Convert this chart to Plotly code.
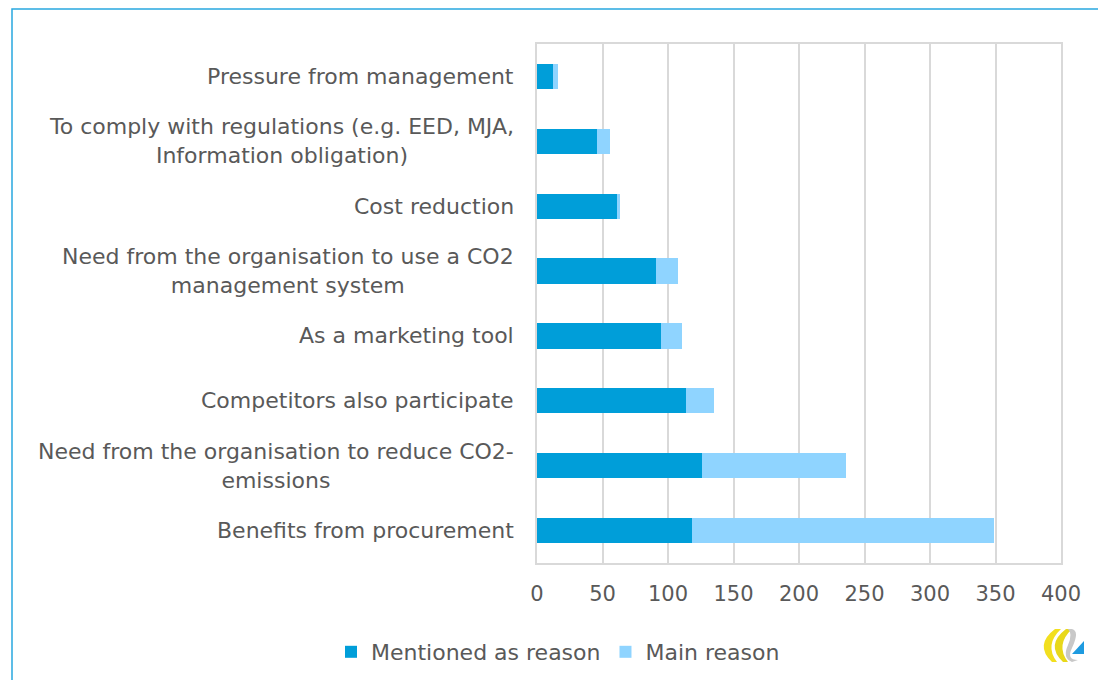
import plotly.graph_objects as go

categories = [
    "Benefits from procurement",
    "Need from the organisation to reduce CO2-<br>emissions",
    "Competitors also participate",
    "As a marketing tool",
    "Need from the organisation to use a CO2<br>management system",
    "Cost reduction",
    "To comply with regulations (e.g. EED, MJA,<br>Information obligation)",
    "Pressure from management",
]
mentioned = [118, 126, 114, 95, 91, 61, 46, 12]
main_reason = [231, 110, 21, 16, 17, 2, 10, 4]
x_ticks = [0, 50, 100, 150, 200, 250, 300, 350, 400]

# page has an 8px body margin; figure sized so the page fits the window
OFF = 8
W, H = 1106 - 2 * OFF, 688 - 2 * OFF
L, T = 537 - OFF, 44 - OFF
R = W - (1061 - OFF)
B = H - (563 - OFF)
pw, ph = W - L - R, H - T - B

def px_x(p):
    return (p - OFF - L) / pw

def px_y(p):
    return (H - B - (p - OFF)) / ph

def path(points, close=True):
    s = ""
    for cmd, pts in points:
        s += cmd + " " + " ".join(f"{px_x(x):.5f},{px_y(y):.5f}" for x, y in pts) + " "
    return s + ("Z" if close else "")

FONT = "DejaVu Sans"
GREY = "#595959"

fig = go.Figure()
fig.add_trace(go.Bar(y=categories, x=mentioned, orientation="h", name="Mentioned as reason",
                     marker=dict(color="#009ED9", line=dict(width=0))))
fig.add_trace(go.Bar(y=categories, x=main_reason, orientation="h", name="Main reason",
                     marker=dict(color="#8FD4FF", line=dict(width=0))))

annotations = []
for c in categories:
    annotations.append(dict(x=0, y=c, xref="x", yref="y", text=c, showarrow=False,
                            xanchor="right", xshift=-21, align="center",
                            font=dict(family=FONT, size=22, color=GREY)))

shapes = [
    dict(type="rect", xref="paper", yref="paper", x0=px_x(12), x1=px_x(1130),
         y0=px_y(720), y1=px_y(9), line=dict(color="#29A8E0", width=1.5),
         fillcolor="rgba(0,0,0,0)", layer="below"),
    # logo (approximation)
    dict(type="path", xref="paper", yref="paper", layer="above", line=dict(width=0),
         fillcolor="#F2DF1F",
         path=path([("M", [(1055, 629)]), ("Q", [(1034, 645), (1052, 662)]),
                    ("L", [(1057, 662)]), ("Q", [(1044, 645), (1061, 629)])])),
    dict(type="path", xref="paper", yref="paper", layer="above", line=dict(width=0),
         fillcolor="#E8D81A",
         path=path([("M", [(1066, 629)]), ("Q", [(1045, 645), (1063, 662)]),
                    ("L", [(1068, 662)]), ("Q", [(1055, 645), (1072, 629)])])),
    dict(type="path", xref="paper", yref="paper", layer="above", line=dict(width=0),
         fillcolor="#C8C8C8",
         path=path([("M", [(1072, 629)]), ("Q", [(1080, 631), (1072, 648)]),
                    ("Q", [(1066, 660), (1078, 660)]), ("L", [(1072, 662)]),
                    ("Q", [(1062, 658), (1068, 645)]), ("Q", [(1073, 634), (1068, 629)])])),
    dict(type="path", xref="paper", yref="paper", layer="above", line=dict(width=0),
         fillcolor="#1E9BE0",
         path=path([("M", [(1084, 641)]), ("L", [(1084, 654)]), ("L", [(1072, 654)])])),
]

fig.update_layout(
    width=W, height=H,
    barmode="stack", bargap=0.61,
    margin=dict(l=L, r=R, t=T, b=B, autoexpand=False),
    plot_bgcolor="white", paper_bgcolor="white",
    font=dict(family=FONT, size=21, color=GREY),
    xaxis=dict(range=[0, 400], tickvals=x_ticks, showgrid=True, gridcolor="#D9D9D9", gridwidth=2,
               showline=True, linecolor="#D9D9D9", linewidth=2, mirror=True, zeroline=False,
               ticks="", ticklabelstandoff=11, automargin=False,
               tickfont=dict(family=FONT, size=21, color=GREY)),
    yaxis=dict(showticklabels=False, showgrid=False, showline=True, linecolor="#D9D9D9",
               linewidth=2, mirror=True, ticks="", automargin=False),
    legend=dict(orientation="h", xref="container", yref="container",
                x=(558 - OFF) / W, xanchor="center",
                y=1 - (652 - OFF) / H, yanchor="middle",
                font=dict(family=FONT, size=22, color=GREY), traceorder="normal",
                itemwidth=30),
    annotations=annotations,
    showlegend=True,
    shapes=shapes,
)

fig.write_html("out.html")
